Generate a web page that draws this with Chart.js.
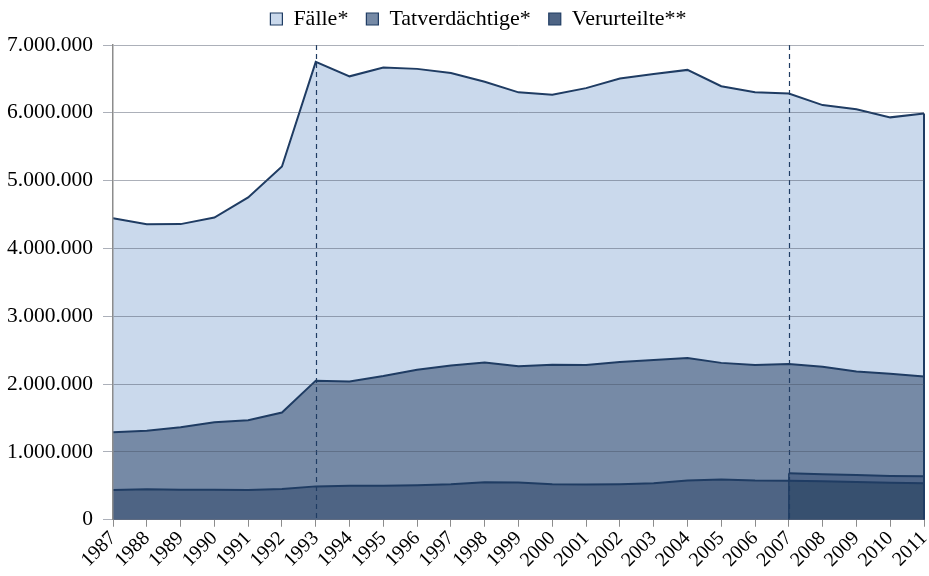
<!DOCTYPE html>
<html>
<head>
<meta charset="utf-8">
<script src="https://cdn.jsdelivr.net/npm/chart.js@4.4.1/dist/chart.umd.min.js"></script>
<style>
    html, body { margin: 0; padding: 0; background: #fff; }
</style>
</head>
<body>
<canvas id="chart" width="929" height="576"></canvas>
<script>
// Data
const years = ['1987', '1988', '1989', '1990', '1991', '1992', '1993', '1994', '1995', '1996', '1997', '1998',
    '1999', '2000', '2001', '2002', '2003', '2004', '2005', '2006', '2007', '2008', '2009', '2010', '2011'];

const faelle = [4444000, 4357000, 4359000, 4455000, 4752000, 5209000, 6751000, 6538000, 6669000, 6648000,
    6586000, 6457000, 6302000, 6265000, 6364000, 6507000, 6572000, 6633000, 6392000, 6304000,
    6285000, 6114000, 6054000, 5933000, 5991000];

const tatverdaechtige = [1290000, 1314000, 1364000, 1437000, 1466000, 1581000, 2051000, 2038000, 2118000, 2213000,
    2273000, 2320000, 2263000, 2286000, 2280000, 2326000, 2356000, 2384000, 2313000, 2283000,
    2295000, 2255000, 2187000, 2152000, 2112000];

const verurteilte = [440000, 448000, 443000, 441000, 440000, 452000, 492000, 500000, 500000, 510000,
    525000, 552000, 548000, 522000, 518000, 525000, 538000, 578000, 595000, 578000,
    575000, 566000, 555000, 545000, 538000];

// second Verurteilte series, only from 2007 on
const verurteilteNeu = [null, null, null, null, null, null, null, null, null, null,
    null, null, null, null, null, null, null, null, null, null,
    687000, 672000, 658000, 645000, 640000];

const markerYears = ['1993', '2007'];

const LINE = '#1f3c63';
const FONT = 'Liberation Serif';

// part of Verurteilte that lies under the 2007+ series
const verurteilteOverlap = verurteilte.map((v, i) => verurteilteNeu[i] === null ? null : v);

function formatDe(v) {
    return String(v).replace(/\B(?=(\d{3})+(?!\d))/g, '.');
}

// more room below the legend, and legend moved a bit to the right
const legendGap = {
    id: 'legendGap',
    beforeInit(chart) {
        const fit = chart.legend.fit;
        chart.legend.fit = function () {
            fit.call(this);
            this.height += 5;
        };
    },
    afterLayout(chart) {
        chart.legend.left += 36;
    }
};

// dashed markers and the vertical edges of the areas
const edgePlugin = {
    id: 'edges',
    afterDatasetsDraw(chart) {
        const { ctx, chartArea, scales } = chart;
        const x = scales.x, y = scales.y;
        ctx.save();
        ctx.strokeStyle = LINE;
        ctx.lineWidth = 1.5;
        // step at the start of the new series
        const first = verurteilteNeu.findIndex(v => v !== null);
        const xs = x.getPixelForValue(first);
        ctx.beginPath();
        ctx.moveTo(xs, y.getPixelForValue(verurteilteNeu[first]));
        ctx.lineTo(xs, y.getPixelForValue(0));
        ctx.stroke();
        // right edge of the areas
        const last = years.length - 1;
        const xe = x.getPixelForValue(last);
        ctx.lineWidth = 2;
        ctx.beginPath();
        ctx.moveTo(xe, y.getPixelForValue(faelle[last]));
        ctx.lineTo(xe, y.getPixelForValue(0));
        ctx.stroke();
        // dashed markers
        ctx.lineWidth = 1.2;
        ctx.setLineDash([5, 4]);
        markerYears.forEach(yr => {
            const px = Math.round(x.getPixelForValue(years.indexOf(yr))) + 0.5;
            ctx.beginPath();
            ctx.moveTo(px, chartArea.top);
            ctx.lineTo(px, chartArea.bottom);
            ctx.stroke();
        });
        ctx.restore();
    }
};

const common = {
    fill: 'origin',
    borderColor: LINE,
    borderWidth: 2,
    pointRadius: 0,
    pointHoverRadius: 0,
    tension: 0
};

// drawn from last to first, so Fälle ends up at the back
new Chart(document.getElementById('chart'), {
    type: 'line',
    data: {
        labels: years,
        datasets: [
            { ...common, label: 'overlap', data: verurteilteOverlap, backgroundColor: '#37506f' },
            { ...common, label: 'neu', data: verurteilteNeu, backgroundColor: '#506688' },
            { ...common, label: 'Verurteilte**', data: verurteilte, backgroundColor: '#4e6484' },
            { ...common, label: 'Tatverdächtige*', data: tatverdaechtige, backgroundColor: '#768aa6' },
            { ...common, label: 'Fälle*', data: faelle, backgroundColor: '#cad9ec' }
        ]
    },
    options: {
        responsive: false,
        animation: false,
        layout: { padding: { left: -3, right: 5, top: -10, bottom: 4 } },
        plugins: {
            tooltip: { enabled: false },
            legend: {
                position: 'top',
                reverse: true,
                labels: {
                    color: '#000',
                    font: { family: FONT, size: 22 },
                    boxWidth: 12,
                    boxHeight: 12,
                    padding: 18,
                    filter: item => item.text !== 'overlap' && item.text !== 'neu',
                    generateLabels(chart) {
                        const items = Chart.defaults.plugins.legend.labels.generateLabels(chart);
                        items.forEach(it => { it.lineWidth = 1.2; });
                        return items;
                    }
                }
            }
        },
        scales: {
            x: {
                offset: false,
                afterFit: s => { s.paddingRight = 0; },
                grid: {
                    drawOnChartArea: false,
                    color: '#8c8c8c',
                    tickLength: 7
                },
                border: { color: '#8c8c8c' },
                ticks: {
                    color: '#000',
                    font: { family: FONT, size: 20 },
                    autoSkip: false,
                    minRotation: 45,
                    maxRotation: 45,
                    padding: 0
                }
            },
            y: {
                min: 0,
                max: 7000000,
                grid: {
                    color: 'rgba(70,80,100,0.45)',
                    tickLength: 10,
                    z: 1
                },
                border: { color: '#8c8c8c', width: 1.5, z: 1 },
                ticks: {
                    stepSize: 1000000,
                    color: '#000',
                    font: { family: FONT, size: 21.5 },
                    padding: 10,
                    callback: v => formatDe(v)
                }
            }
        }
    },
    plugins: [legendGap, edgePlugin]
});
</script>
</body>
</html>
